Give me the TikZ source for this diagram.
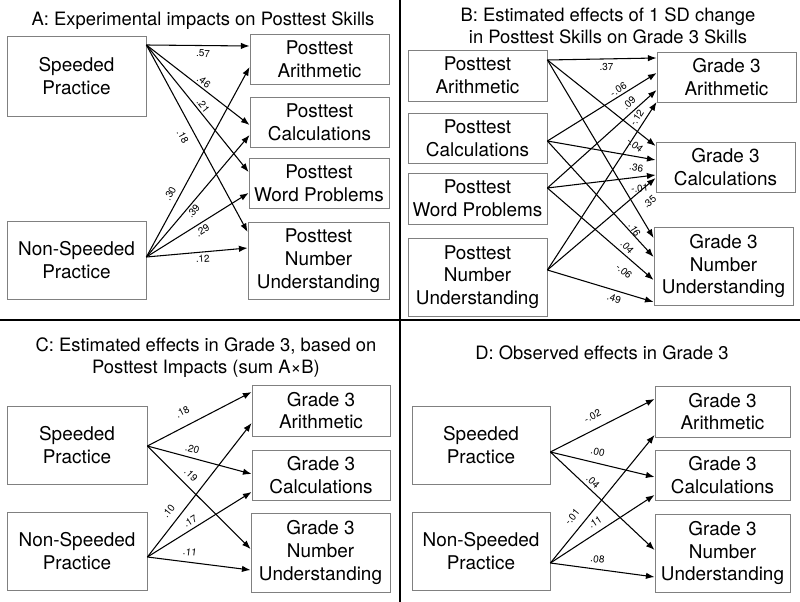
\documentclass[tikz,border=0pt]{standalone}
\usepackage{fontspec}
\setmainfont{TeX Gyre Heros}
\usetikzlibrary{arrows.meta, positioning, calc}

\tikzset{
  skillbox/.style={draw=black!50, line width=0.6pt, inner sep=0pt, align=center,
    font=\fontsize{14.2}{17}\selectfont},
  span/.style n args={4}{at={($(#1,#2)!.5!(#3,#4)$)},
    minimum width={(#3-#1)*0.75pt}, minimum height={(#4-#2)*0.75pt}},
  effect/.style={-{Latex[length=6.5pt,width=4.8pt]}, line width=0.8pt},
  coef/.style={font=\fontsize{7.5}{8}\selectfont, sloped, inner sep=1.5pt},
  paneltitle/.style={align=center, font=\fontsize{13.8}{16.5}\selectfont},
  divider/.style={line width=1.3pt},
}

\begin{document}
\begin{tikzpicture}[x=0.75pt, y=-0.75pt]
\useasboundingbox (0,0) rectangle (800,602);
\draw[divider] (400,0) -- (400,602);
\draw[divider] (0,320) -- (800,320);

% A: experimental impacts
\node[paneltitle] (a_title) at (203,21) {A: Experimental impacts on Posttest Skills};
\node[skillbox, span={7}{36}{146}{116}] (a_speeded) {Speeded\\Practice};
\node[skillbox, span={7}{221}{146}{299}] (a_nonspeeded) {Non-Speeded\\Practice};
\node[skillbox, span={250}{34}{389}{84}] (a_arith) {Posttest\\Arithmetic};
\node[skillbox, span={250}{97}{389}{147}] (a_calc) {Posttest\\Calculations};
\node[skillbox, span={249}{158}{389}{208}] (a_word) {Posttest\\Word Problems};
\node[skillbox, span={248}{222}{389}{299}] (a_number) {Posttest\\Number\\Understanding};
\path[effect]
  (a_speeded.east |- 0,45) edge node[coef, below=1.5pt, pos=.55] {.57} (a_arith.west |- 0,46)
  (a_speeded.east |- 0,45) edge node[coef, above=0pt, pos=.52] {.46} (a_calc.west |- 0,125)
  (a_speeded.east |- 0,45) edge node[coef, above=0pt, pos=.51] {.21} (a_word.west |- 0,172)
  (a_speeded.east |- 0,45) edge node[coef, below=4pt, pos=.46] {.18} (a_number.west |- 0,232)
  (a_nonspeeded.east |- 0,257) edge node[coef, above=2.5pt, pos=.31] {.30} (a_arith.west |- 0,67)
  (a_nonspeeded.east |- 0,257) edge node[coef, below=0pt, pos=.41] {.39} (a_calc.west |- 0,135)
  (a_nonspeeded.east |- 0,257) edge node[coef, below=1pt, pos=.51] {.29} (a_word.west |- 0,193)
  (a_nonspeeded.east |- 0,257) edge node[coef, below=0.5pt, pos=.55] {.12} (a_number.west |- 0,248)
;

% B: posttest skills -> grade 3 skills
\node[paneltitle] (b_title) at (608,26) {B: Estimated effects of 1 SD change\\in Posttest Skills on Grade 3 Skills};
\node[skillbox, span={408}{50}{547}{101}] (b_arith) {Posttest\\Arithmetic};
\node[skillbox, span={408}{113}{547}{163}] (b_calc) {Posttest\\Calculations};
\node[skillbox, span={408}{173}{547}{224}] (b_word) {Posttest\\Word Problems};
\node[skillbox, span={408}{238}{547}{316}] (b_number) {Posttest\\Number\\Understanding};
\node[skillbox, span={657}{52}{796}{102}] (b_g3arith) {Grade 3\\Arithmetic};
\node[skillbox, span={656}{142}{795}{192}] (b_g3calc) {Grade 3\\Calculations};
\node[skillbox, span={654}{227}{793}{305}] (b_g3number) {Grade 3\\Number\\Understanding};
\path[effect]
  (b_arith.east |- 0,60) edge node[coef, below=1.3pt, pos=.54] {.37} (b_g3arith.west |- 0,58)
  (b_arith.east |- 0,60) edge node[coef, below=4.5pt, pos=.88] {-.04} (b_g3calc.west |- 0,146)
  (b_arith.east |- 0,60) edge node[coef, below=4.5pt, pos=.92] {.16} (b_g3number.west |- 0,238)
  (b_calc.east |- 0,141) edge node[coef, above=0pt, pos=.68] {-.06} (b_g3arith.west |- 0,73)
  (b_calc.east |- 0,141) edge node[coef, below=3.5pt, pos=.84] {.36} (b_g3calc.west |- 0,160)
  (b_calc.east |- 0,141) edge node[coef, below=5pt, pos=.84] {.04} (b_g3number.west |- 0,257)
  (b_word.east |- 0,188) edge node[coef, above=1.7pt, pos=.8] {.09} (b_g3arith.west |- 0,90)
  (b_word.east |- 0,188) edge node[coef, below=4pt, pos=.84] {-.01} (b_g3calc.west |- 0,175)
  (b_word.east |- 0,188) edge node[coef, below=5pt, pos=.8] {-.06} (b_g3number.west |- 0,280)
  (b_number.east |- 0,270) edge node[coef, above=1.5pt, pos=.88] {-.12} (b_g3arith.west |- 0,102)
  (b_number.east |- 0,270) edge node[coef, below=6pt, pos=.86] {.35} (b_g3calc.west |- 0,178)
  (b_number.east |- 0,270) edge node[coef, below=1.5pt, pos=.65] {.49} (b_g3number.west |- 0,302)
;

% C: estimated grade 3 effects
\node[paneltitle] (c_title) at (206,358) {C: Estimated effects in Grade 3, based on\\Posttest Impacts (sum A×B)};
\node[skillbox, span={7}{406}{147}{484}] (c_speeded) {Speeded\\Practice};
\node[skillbox, span={7}{512}{147}{590}] (c_nonspeeded) {Non-Speeded\\Practice};
\node[skillbox, span={252}{385}{390}{436}] (c_arith) {Grade 3\\Arithmetic};
\node[skillbox, span={252}{450}{390}{500}] (c_calc) {Grade 3\\Calculations};
\node[skillbox, span={251}{513}{390}{592}] (c_number) {Grade 3\\Number\\Understanding};
\path[effect]
  (c_speeded.east |- 0,446) edge node[coef, above=6pt, pos=.4] {.18} (c_arith.west |- 0,392)
  (c_speeded.east |- 0,446) edge node[coef, above=1.8pt, pos=.41] {.20} (c_calc.west |- 0,474)
  (c_speeded.east |- 0,446) edge node[coef, above=3.3pt, pos=.35] {.19} (c_number.west |- 0,549)
  (c_nonspeeded.east |- 0,557) edge node[coef, above=4pt, pos=.29] {.10} (c_arith.west |- 0,423)
  (c_nonspeeded.east |- 0,557) edge node[coef, above=1.2pt, pos=.45] {.17} (c_calc.west |- 0,492)
  (c_nonspeeded.east |- 0,557) edge node[coef, above=3pt, pos=.4] {.11} (c_number.west |- 0,570)
;

% D: observed grade 3 effects
\node[paneltitle] (d_title) at (602,353) {D: Observed effects in Grade 3};
\node[skillbox, span={412}{406}{550}{484}] (d_speeded) {Speeded\\Practice};
\node[skillbox, span={412}{512}{550}{590}] (d_nonspeeded) {Non-Speeded\\Practice};
\node[skillbox, span={655}{386}{790}{437}] (d_arith) {Grade 3\\Arithmetic};
\node[skillbox, span={655}{450}{790}{500}] (d_calc) {Grade 3\\Calculations};
\node[skillbox, span={655}{514}{790}{592}] (d_number) {Grade 3\\Number\\Understanding};
\path[effect]
  (d_speeded.east |- 0,452) edge node[coef, above=5pt, pos=.46] {-.02} (d_arith.west |- 0,399)
  (d_speeded.east |- 0,452) edge node[coef, above=3.5pt, pos=.43] {.00} (d_calc.west |- 0,477)
  (d_speeded.east |- 0,452) edge node[coef, above=1pt, pos=.36] {.04} (d_number.west |- 0,550)
  (d_nonspeeded.east |- 0,563) edge node[coef, above=4.5pt, pos=.3] {-.01} (d_arith.west |- 0,435)
  (d_nonspeeded.east |- 0,563) edge node[coef, above=2.8pt, pos=.48] {.11} (d_calc.west |- 0,495)
  (d_nonspeeded.east |- 0,563) edge node[coef, above=2.9pt, pos=.44] {.08} (d_number.west |- 0,577)
;
\end{tikzpicture}
\end{document}
